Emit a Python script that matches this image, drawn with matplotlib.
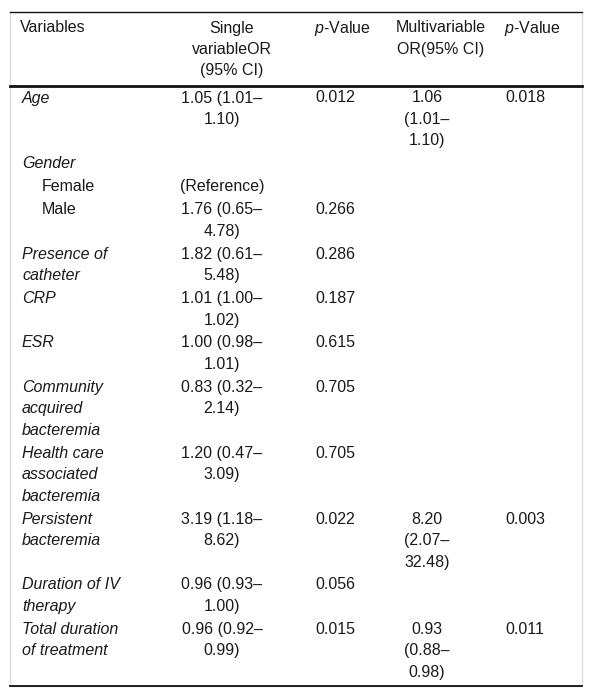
import matplotlib
matplotlib.use("Agg")
from matplotlib import pyplot as plt

plt.rcParams['font.family'] = ['Liberation Sans', 'DejaVu Sans']
plt.rcParams['mathtext.fontset'] = 'custom'
plt.rcParams['mathtext.rm'] = 'Liberation Sans'
plt.rcParams['mathtext.it'] = 'Liberation Sans:italic'

#Table contents
headers = ['Variables', 'Single\nvariableOR\n(95% CI)', r'$\it{p}$-Value',
           'Multivariable\nOR(95% CI)', r'$\it{p}$-Value']

variables = ['Age', 'Gender', 'Female', 'Male', 'Presence of\ncatheter', 'CRP', 'ESR',
             'Community\nacquired\nbacteremia', 'Health care\nassociated\nbacteremia',
             'Persistent\nbacteremia', 'Duration of IV\ntherapy',
             'Total duration\nof treatment']
single_or = ['1.05 (1.01–\n1.10)', '', '(Reference)', '1.76 (0.65–\n4.78)',
             '1.82 (0.61–\n5.48)', '1.01 (1.00–\n1.02)', '1.00 (0.98–\n1.01)',
             '0.83 (0.32–\n2.14)', '1.20 (0.47–\n3.09)', '3.19 (1.18–\n8.62)',
             '0.96 (0.93–\n1.00)', '0.96 (0.92–\n0.99)']
p_single = ['0.012', '', '', '0.266', '0.286', '0.187', '0.615', '0.705', '0.705',
            '0.022', '0.056', '0.015']
multi_or = ['1.06\n(1.01–\n1.10)', '', '', '', '', '', '', '', '',
            '8.20\n(2.07–\n32.48)', '', '0.93\n(0.88–\n0.98)']
p_multi = ['0.018', '', '', '', '', '', '', '', '', '0.003', '', '0.011']
sub_rows = ['Female', 'Male']

#Layout (pixels)
W, H = 592, 699
line_h = 21.5
row_pad = 1.4
fs = 11.5
txt_c = '#1a1a1a'

fig = plt.figure(figsize=(W / 100, H / 100), dpi=100)
ax = fig.add_axes([0, 0, 1, 1])
ax.set_xlim(0, W)
ax.set_ylim(H, 0)
ax.axis('off')

def cell(x, y, s, ha='left', style='normal'):
    for i, line in enumerate(s.split('\n')):
        ax.text(x, y + i * line_h, line, ha=ha, va='center', fontsize=fs,
                color=txt_c, style=style)

#Border box and rules
ax.plot([10, 10, 582, 582], [12, 686, 686, 12], color='#dddddd', lw=1)
ax.plot([10, 582], [12, 12], color='#111111', lw=1.0)
ax.plot([10, 582], [86, 86], color='#111111', lw=2.0)
ax.plot([10, 582], [686, 686], color='#111111', lw=1.3)

#Header
hy = 28
cell(20, hy, headers[0])
cell(232, hy, headers[1], ha='center')
cell(314, hy, headers[2])
cell(441, hy, headers[3], ha='center')
cell(504, hy, headers[4])

#Body
y = 98
for v, s1, p1, m1, p2 in zip(variables, single_or, p_single, multi_or, p_multi):
    if v in sub_rows:
        cell(42, y, v)
    else:
        cell(22, y, v, style='italic')
    cell(222, y, s1, ha='center')
    cell(315, y, p1)
    cell(427, y, m1, ha='center')
    cell(505, y, p2)
    n = max(c.count('\n') + 1 for c in (v, s1, p1, m1, p2))
    y += n * line_h + row_pad

fig.savefig('out.png', dpi=100)
